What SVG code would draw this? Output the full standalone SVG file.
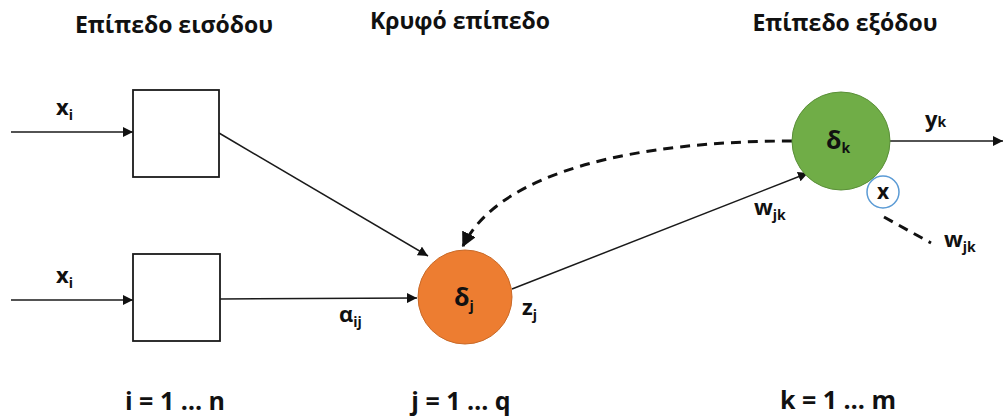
<svg xmlns="http://www.w3.org/2000/svg" width="1003" height="418" viewBox="0 0 1003 418">
<style>
text{font-family:"Open Sans","Noto Sans",sans-serif;font-weight:bold;fill:#111}
.h{font-size:23px;text-anchor:middle}
.lbl{font-size:22px}
.sub{font-size:14px}
.r{font-size:25px;text-anchor:middle}
.ln{stroke:#1a1a1a;stroke-width:1.5;fill:none}
.dash{stroke:#111;stroke-width:3;fill:none;stroke-dasharray:10 7}
.box{fill:#fff;stroke:#1a1a1a;stroke-width:1.8}
</style>
<defs>
<marker id="ah" viewBox="0 0 10 10" refX="10" refY="5" markerWidth="10" markerHeight="10" markerUnits="userSpaceOnUse" orient="auto">
<path d="M0,0 L10,5 L0,10 z" fill="#111"/>
</marker>
<marker id="ahd" viewBox="0 0 10 10" refX="9" refY="5" markerWidth="5" markerHeight="5" orient="auto">
<path d="M0,0 L10,5 L0,10 z" fill="#111"/>
</marker>
</defs>
<g id="headers">
<text class="h" x="174" y="33">Επίπεδο εισόδου</text>
<text class="h" x="460" y="29">Κρυφό επίπεδο</text>
<text class="h" x="845" y="31">Επίπεδο εξόδου</text>
</g>
<g id="connectors">
<line class="ln" x1="11" y1="132" x2="133" y2="132" marker-end="url(#ah)"/>
<line class="ln" x1="11" y1="300" x2="133" y2="300" marker-end="url(#ah)"/>
<line class="ln" x1="219" y1="133" x2="428" y2="256" marker-end="url(#ah)"/>
<line class="ln" x1="220" y1="299" x2="417" y2="298" marker-end="url(#ah)"/>
<line class="ln" x1="512" y1="289" x2="808" y2="173" marker-end="url(#ah)"/>
<line class="ln" x1="890" y1="141" x2="1003" y2="141" marker-end="url(#ah)"/>
<path class="dash" d="M792,141 C640,141 500,170 463,246" marker-end="url(#ahd)"/>
<line class="dash" x1="884" y1="217" x2="931" y2="243"/>
</g>
<g id="input1"><rect class="box" x="133" y="90" width="86" height="87"/></g>
<g id="input2"><rect class="box" x="133" y="254" width="87" height="87"/></g>
<g id="hidden">
<circle cx="465" cy="297" r="47" fill="#ed7d31" stroke="#c96a28" stroke-width="1"/>
<text x="454" y="306" font-size="25">δ<tspan class="sub" font-size="16" dy="5">j</tspan></text>
</g>
<g id="output">
<circle cx="841" cy="141" r="49" fill="#70ad47" stroke="#5a8f38" stroke-width="1"/>
<text x="826" y="149" font-size="25">δ<tspan class="sub" font-size="16" dy="4">k</tspan></text>
</g>
<g id="mult">
<circle cx="883" cy="192" r="16" fill="#fff" stroke="#5b9bd5" stroke-width="1.5"/>
<text x="883" y="199" font-size="21" text-anchor="middle">x</text>
</g>
<g id="labels">
<text class="lbl" x="56" y="115">x<tspan class="sub" dy="5">i</tspan></text>
<text class="lbl" x="56" y="283">x<tspan class="sub" dy="5">i</tspan></text>
<text class="lbl" x="339" y="322">α<tspan class="sub" dy="5">ij</tspan></text>
<text class="lbl" x="522" y="315">z<tspan class="sub" dy="5">j</tspan></text>
<text class="lbl" x="754" y="215">w<tspan class="sub" dy="5">jk</tspan></text>
<text class="lbl" x="925" y="127">y<tspan class="sub" dy="0">k</tspan></text>
<text class="lbl" x="944" y="247">w<tspan class="sub" dy="5">jk</tspan></text>
</g>
<g id="ranges">
<text class="r" x="175" y="410">i = 1 … n</text>
<text class="r" x="461" y="410">j = 1 … q</text>
<text class="r" x="838" y="409">k = 1 … m</text>
</g>
</svg>
